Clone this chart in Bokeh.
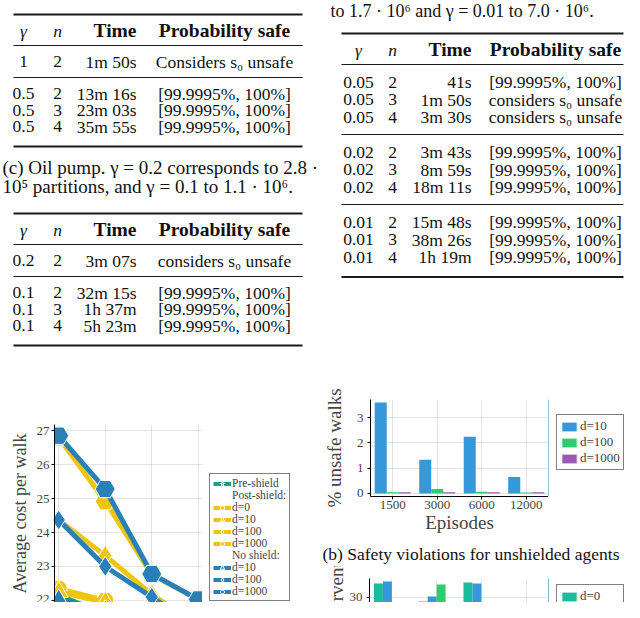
from bokeh.plotting import figure
from bokeh.models import (Range1d, ColumnDataSource, Legend, LegendItem,
                          FixedTicker, FactorRange)
from bokeh.layouts import column, row
from bokeh.transform import dodge
from bokeh.core.properties import value
from bokeh.embed import file_html
from bokeh.resources import INLINE

SERIF = "Liberation Serif"

# ---------------- data ----------------
table_headers = ["γ", "n", "Time", "Probability safe"]

tl_gamma = ["1", "0.5", "0.5", "0.5"]
tl_n = ["2", "2", "3", "4"]
tl_time = ["1m 50s", "13m 16s", "23m 03s", "35m 55s"]
tl_prob = ["Considers s₀ unsafe", "[99.9995%, 100%]", "[99.9995%, 100%]", "[99.9995%, 100%]"]
tl_groups = [1, 3]

oil_caption = ["(c) Oil pump. γ = 0.2 corresponds to 2.8 ·",
               "10⁵ partitions, and γ = 0.1 to 1.1 · 10⁶."]
oil_gamma = ["0.2", "0.1", "0.1", "0.1"]
oil_n = ["2", "2", "3", "4"]
oil_time = ["3m 07s", "32m 15s", "1h 37m", "5h 23m"]
oil_prob = ["considers s₀ unsafe", "[99.9995%, 100%]", "[99.9995%, 100%]", "[99.9995%, 100%]"]
oil_groups = [1, 3]

tr_caption = "to 1.7 · 10⁶ and γ = 0.01 to 7.0 · 10⁶."
tr_gamma = ["0.05", "0.05", "0.05", "0.02", "0.02", "0.02", "0.01", "0.01", "0.01"]
tr_n = ["2", "3", "4", "2", "3", "4", "2", "3", "4"]
tr_time = ["41s", "1m 50s", "3m 30s", "3m 43s", "8m 59s", "18m 11s", "15m 48s", "38m 26s", "1h 19m"]
tr_prob = ["[99.9995%, 100%]", "considers s₀ unsafe", "considers s₀ unsafe",
           "[99.9995%, 100%]", "[99.9995%, 100%]", "[99.9995%, 100%]",
           "[99.9995%, 100%]", "[99.9995%, 100%]", "[99.9995%, 100%]"]
tr_groups = [3, 3, 3]

episodes = ["1500", "3000", "6000", "12000"]

cost_pre_shield = [22.15, 21.6, 20.9, 20.5]
cost_post_d0 = [22.35, 22.0, 21.0, 20.6]
cost_post_d10 = [22.25, 21.95, 20.95, 20.6]
cost_post_d100 = [24.37, 23.32, 22.18, 21.25]
cost_post_d1000 = [26.8, 24.92, 22.76, 22.03]
cost_no_d10 = [22.02, 21.7, 20.9, 20.5]
cost_no_d100 = [24.37, 23.0, 22.1, 21.2]
cost_no_d1000 = [26.85, 25.28, 22.78, 22.03]

unsafe_d10 = [3.6, 1.33, 2.25, 0.65]
unsafe_d100 = [0.05, 0.18, 0.07, 0.04]
unsafe_d1000 = [0.05, 0.05, 0.05, 0.05]

caption_b = "(b) Safety violations for unshielded agents"
interv_d0 = [35.5, 28.4, 35.9, 20.0]
interv_d10 = [36.3, 30.4, 35.5, 22.3]
interv_d100 = [20.5, 35.1, 20.0, 19.0]
interv_d1000 = [19.0, 20.0, 18.5, 18.0]

# ---------------- colours ----------------
C_TEAL = "#16a085"
C_YELLOW = "#f1c40f"
C_BLUE = "#2980b9"
B_TEAL = "#1abc9c"
B_BLUE = "#3498db"
B_GREEN = "#2ecc71"
B_PURPLE = "#9b59b6"

PAGE_W = 624
TOP_H = 360
BOT_H = 242
OFF = [-10.0]      # legend-only renderers sit outside the visible range
OFF2 = [-10.0, -9.0]


def blank(width, height):
    p = figure(width=width, height=height, output_backend="svg", toolbar_location=None,
               min_border=0, x_axis_location=None, y_axis_location=None,
               outline_line_color=None, x_range=Range1d(0, 1), y_range=Range1d(0, 1))
    p.grid.visible = False
    return p


# ---------------- top: tables as text ----------------
top = figure(width=PAGE_W, height=TOP_H, x_range=Range1d(0, PAGE_W), y_range=Range1d(TOP_H, 0),
             output_backend="svg", toolbar_location=None, min_border=0,
             x_axis_location=None, y_axis_location=None, outline_line_color=None)
top.grid.visible = False

BODY = "17.5px"
HEAD = "19.5px"


def table_layout(top_y, groups, s, gap):
    header = top_y + 16
    rules = [header + 15]
    rows = []
    y = rules[0]
    for g in groups:
        first = y + gap
        rows += [first + i * s for i in range(g)]
        y = rows[-1] + gap
        rules.append(y)
    bottom = rows[-1] + 20
    return header, rules[:-1], rows, bottom


def draw_table(p, top_y, gamma, n, time, prob, groups, xs, x0, x1, s, gap):
    header, rules, rows, bottom = table_layout(top_y, groups, s, gap)
    xg, xn, xt, xp = xs
    p.segment(x0=[x0, x0], y0=[top_y, bottom], x1=[x1, x1], y1=[top_y, bottom],
              line_color="#1a1a1a", line_width=1.8)
    p.segment(x0=[x0] * len(rules), y0=rules, x1=[x1] * len(rules), y1=rules,
              line_color="#1a1a1a", line_width=1.0)
    common = dict(text_font=value(SERIF), text_baseline="middle", text_color="#111111")
    p.text(x=[xg, xn], y=[header, header], text=table_headers[:2], text_align="center",
           text_font_style="italic", text_font_size=BODY, **common)
    p.text(x=[xt], y=[header], text=[table_headers[2]], text_align="right",
           text_font_style="bold", text_font_size=HEAD, **common)
    p.text(x=[xp], y=[header], text=[table_headers[3]], text_align="center",
           text_font_style="bold", text_font_size=HEAD, **common)
    k = len(rows)
    p.text(x=[xg] * k, y=rows, text=gamma, text_align="center", text_font_size=BODY, **common)
    p.text(x=[xn] * k, y=rows, text=n, text_align="center", text_font_size=BODY, **common)
    p.text(x=[xt] * k, y=rows, text=time, text_align="right", text_font_size=BODY, **common)
    p.text(x=[xp] * k, y=rows, text=prob, text_align="center", text_font_size=BODY, **common)


draw_table(top, 14, tl_gamma, tl_n, tl_time, tl_prob, tl_groups, (23, 57, 136, 224), 13, 302, 16.5, 16)
draw_table(top, 213, oil_gamma, oil_n, oil_time, oil_prob, oil_groups, (23, 57, 136, 224), 13, 302, 16.5, 16)
draw_table(top, 33, tr_gamma, tr_n, tr_time, tr_prob, tr_groups, (358, 392, 471, 555), 341, 623, 17.5, 17.5)

top.text(x=[2, 2], y=[167, 186], text=oil_caption, text_align="left", text_baseline="middle",
         text_font=value(SERIF), text_font_size="19px", text_color="#111111")
top.text(x=[330], y=[10], text=[tr_caption], text_align="left", text_baseline="middle",
         text_font=value(SERIF), text_font_size="18px", text_color="#111111")

# ---------------- bottom-left: line chart ----------------
pos = [i + 1 for i in range(len(episodes))]
lc = figure(width=202, height=BOT_H, x_range=Range1d(0.91, 4.09), y_range=Range1d(21.94, 27.18),
            x_axis_location=None, output_backend="svg", toolbar_location=None,
            min_border_left=54, min_border_right=0, min_border_top=64, min_border_bottom=0,
            outline_line_color=None)
lc.xgrid.ticker = FixedTicker(ticks=pos)
lc.grid.grid_line_color = "black"
lc.grid.grid_line_alpha = 0.1
lc.yaxis.ticker = FixedTicker(ticks=[21, 22, 23, 24, 25, 26, 27])
lc.yaxis.axis_label = "Average cost per walk"
lc.yaxis.axis_label_text_font = SERIF
lc.yaxis.axis_label_text_font_style = "normal"
lc.yaxis.axis_label_text_font_size = "18px"
lc.yaxis.axis_label_standoff = 4
lc.yaxis.major_label_text_font = SERIF
lc.yaxis.major_label_text_font_size = "13px"
lc.yaxis.major_label_standoff = 2
lc.yaxis.major_tick_in = 0
lc.yaxis.major_tick_out = 3
lc.yaxis.minor_tick_out = 0
lc.yaxis.minor_tick_in = 0
lc.yaxis.axis_line_color = "black"

series = [
    ("Pre-shield", cost_pre_shield, C_TEAL, "star", 11),
    ("d=0", cost_post_d0, C_YELLOW, "circle", 17),
    ("d=10", cost_post_d10, C_YELLOW, "triangle", 19),
    ("d=100", cost_post_d100, C_YELLOW, "diamond", 20),
    ("d=1000", cost_post_d1000, C_YELLOW, "hex", 20),
    ("d=10", cost_no_d10, C_BLUE, "triangle", 19),
    ("d=100", cost_no_d100, C_BLUE, "diamond", 20),
    ("d=1000", cost_no_d1000, C_BLUE, "hex", 20),
]
for label, vals, col, mk, sz in series:
    lc.line(pos, vals, line_color=col, line_width=5)
    lc.scatter(pos, vals, marker=mk, size=sz, fill_color=col, line_color="white", line_width=1)

# legend strip for the line chart (same glyph styles, to the right of the frame)
lcl = blank(320 - 202, BOT_H)
leg_r = []
for label, vals, col, mk, sz in series:
    l = lcl.line(x=OFF2, y=OFF2, line_color=col, line_width=4)
    s = lcl.scatter(x=OFF, y=OFF, marker=mk, size=sz, fill_color=col, line_color="white",
                    line_width=1)
    leg_r.append((label, [l, s]))
dummy = lcl.line(x=OFF2, y=OFF2, line_alpha=0)
items = [LegendItem(label=leg_r[0][0], renderers=leg_r[0][1]),
         LegendItem(label="Post-shield:", renderers=[dummy])]
items += [LegendItem(label=lab, renderers=r) for lab, r in leg_r[1:5]]
items += [LegendItem(label="No shield:", renderers=[dummy])]
items += [LegendItem(label=lab, renderers=r) for lab, r in leg_r[5:]]
leg = Legend(items=items, location=(7, 1), border_line_color="black", border_line_width=1.5,
             background_fill_color="white", background_fill_alpha=1,
             label_text_font=SERIF, label_text_font_size="11.5px", glyph_width=18, glyph_height=11,
             label_height=11, spacing=0, padding=3, margin=0, label_standoff=1)
lcl.add_layout(leg)

# ---------------- bottom-right top: unsafe walks bars ----------------
BW = 548 - 320
LW = PAGE_W - 548
b1 = figure(width=BW, height=180, x_range=FactorRange(*episodes), y_range=Range1d(-0.12, 3.72),
            output_backend="svg", toolbar_location=None,
            min_border_left=50, min_border_right=0, min_border_top=39, min_border_bottom=44,
            outline_line_color=None)
src1 = ColumnDataSource(dict(ep=episodes, d10=unsafe_d10, d100=unsafe_d100, d1000=unsafe_d1000))
w1 = 0.27
b1.vbar(x=dodge("ep", -w1, range=b1.x_range), top="d10", width=w1, source=src1,
        fill_color=B_BLUE, line_color=None)
b1.vbar(x=dodge("ep", 0, range=b1.x_range), top="d100", width=w1, source=src1,
        fill_color=B_GREEN, line_color=None)
b1.vbar(x=dodge("ep", w1, range=b1.x_range), top="d1000", width=w1, source=src1,
        fill_color=B_PURPLE, line_color=None)
b1.grid.grid_line_color = "black"
b1.grid.grid_line_alpha = 0.1
b1.yaxis.ticker = FixedTicker(ticks=[0, 1, 2, 3])
b1.yaxis.axis_label = "% unsafe walks"
b1.xaxis.axis_label = "Episodes"
for ax in (b1.xaxis[0], b1.yaxis[0]):
    ax.axis_label_text_font = SERIF
    ax.axis_label_text_font_style = "normal"
    ax.axis_label_text_font_size = "19px"
    ax.major_label_text_font = SERIF
    ax.major_label_text_font_size = "13px"
    ax.major_tick_in = 0
    ax.major_tick_out = 3
    ax.minor_tick_in = 0
    ax.minor_tick_out = 0
    ax.axis_line_color = "black"
b1.yaxis.axis_label_standoff = 9
b1.yaxis.major_label_standoff = 4
b1.xaxis.axis_label_standoff = 0
b1.xaxis.major_label_standoff = 1

b1l = blank(LW, 180)
lr = [b1l.vbar(x=OFF, top=[1], width=0.5, fill_color=c, line_color=None)
      for c in (B_BLUE, B_GREEN, B_PURPLE)]
leg1 = Legend(items=[LegendItem(label=lab, renderers=[r]) for lab, r in
                     zip(["d=10", "d=100", "d=1000"], lr)],
              location=(8, 26), border_line_color="black", border_line_width=1.5,
              background_fill_color="white", background_fill_alpha=1,
              label_text_font=SERIF, label_text_font_size="13px", glyph_width=18, glyph_height=11,
              spacing=0, padding=3, margin=0, label_standoff=2)
b1l.add_layout(leg1)

# ---------------- caption strip ----------------
RW = PAGE_W - 320
cap = figure(width=RW, height=26, x_range=Range1d(320, PAGE_W), y_range=Range1d(566, 540),
             output_backend="svg", toolbar_location=None, min_border=0,
             x_axis_location=None, y_axis_location=None, outline_line_color=None)
cap.grid.visible = False
cap.text(x=[322], y=[553], text=[caption_b], text_align="left", text_baseline="middle",
         text_font=value(SERIF), text_font_size="17.5px", text_color="#111111")

# ---------------- bottom-right bottom: interventions bars (cropped) ----------------
B2H = BOT_H - 180 - 26
b2 = figure(width=BW, height=B2H, x_range=FactorRange(*episodes),
            y_range=Range1d(28.0, 37.5),
            x_axis_location=None, output_backend="svg", toolbar_location=None,
            min_border_left=49, min_border_right=0, min_border_top=12, min_border_bottom=0,
            outline_line_color=None)
src2 = ColumnDataSource(dict(ep=episodes, d0=interv_d0, d10=interv_d10, d100=interv_d100,
                             d1000=interv_d1000))
w2 = 0.2
cols2 = [(-1.5, "d0", B_TEAL), (-0.5, "d10", B_BLUE), (0.5, "d100", B_GREEN), (1.5, "d1000", B_PURPLE)]
for off, key, colr in cols2:
    b2.vbar(x=dodge("ep", off * w2, range=b2.x_range), top=key, width=w2, source=src2,
            fill_color=colr, line_color=None)
b2.grid.grid_line_color = "black"
b2.grid.grid_line_alpha = 0.1
b2.yaxis.ticker = FixedTicker(ticks=[10, 20, 30])
b2.yaxis.axis_label = "% interventions"
b2.yaxis.axis_label_text_font = SERIF
b2.yaxis.axis_label_text_font_style = "normal"
b2.yaxis.axis_label_text_font_size = "19px"
b2.yaxis.axis_label_standoff = 0
b2.yaxis.major_label_text_font = SERIF
b2.yaxis.major_label_text_font_size = "13px"
b2.yaxis.major_tick_in = 0
b2.yaxis.major_tick_out = 3
b2.yaxis.minor_tick_in = 0
b2.yaxis.minor_tick_out = 0
b2.yaxis.major_label_standoff = 4
b2.yaxis.axis_line_color = "black"

b2l = blank(LW, B2H)
lr2 = [b2l.vbar(x=OFF, top=[1], width=0.5, fill_color=c, line_color=None) for _, _, c in cols2]
leg2 = Legend(items=[LegendItem(label=lab, renderers=[r]) for lab, r in
                     zip(["d=0", "d=10", "d=100", "d=1000"], lr2)],
              location=(8, -54), border_line_color="black", border_line_width=1.5,
              background_fill_color="white", background_fill_alpha=1,
              label_text_font=SERIF, label_text_font_size="13px", glyph_width=18, glyph_height=11,
              spacing=0, padding=3, margin=0, label_standoff=2)
b2l.add_layout(leg2)

layout = column(top, row(lc, lcl, column(row(b1, b1l), cap, row(b2, b2l))))
open("out.html", "w").write(file_html(layout, INLINE))
